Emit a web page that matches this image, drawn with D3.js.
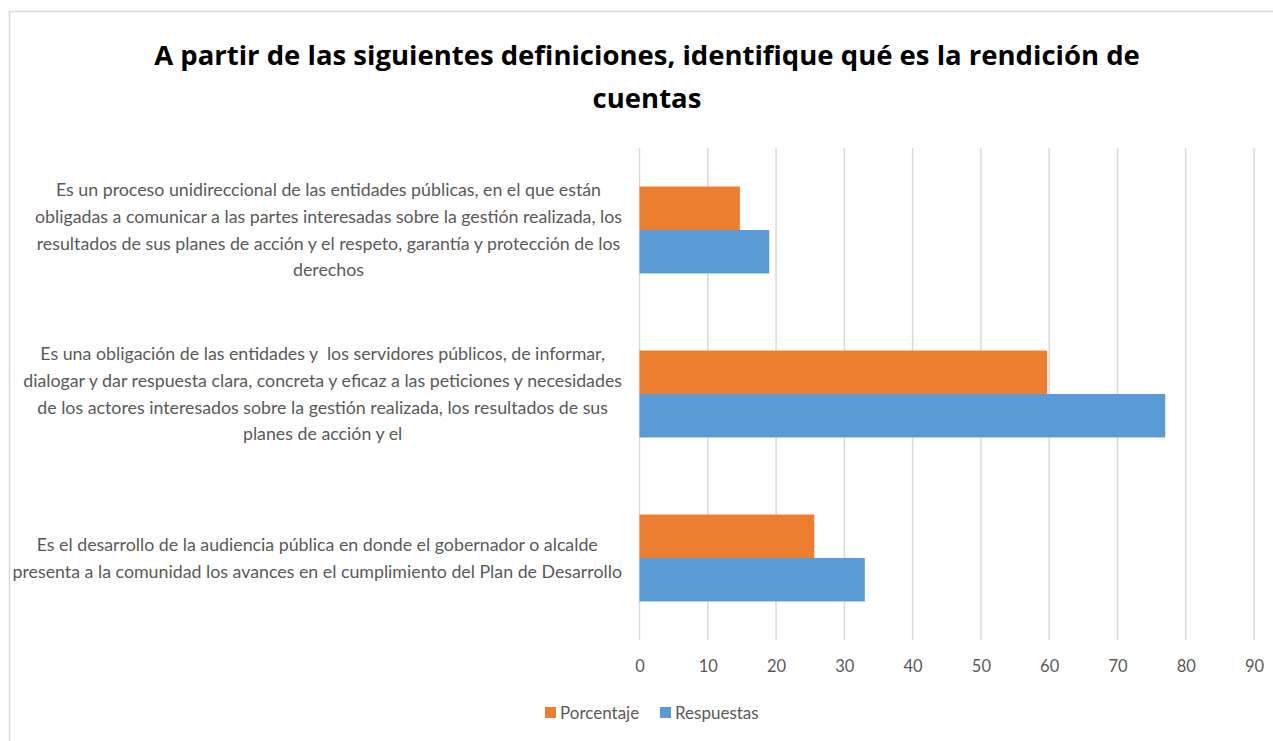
<!DOCTYPE html>
<html>
<head>
<meta charset="utf-8">
<script src="https://cdn.jsdelivr.net/npm/d3@7"></script>
<style>
  body { margin: 0; background: #fff; }
  svg { display: block; font-family: "Lato", "Liberation Sans", sans-serif; }
</style>
</head>
<body>
<div id="chart"></div>
<script>
// categorias (de arriba hacia abajo), cada una partida en lineas como en el original
const categories = [
    ["Es un proceso unidireccional de las entidades públicas, en el que están",
     "obligadas a comunicar a las partes interesadas sobre la gestión realizada, los",
     "resultados de sus planes de acción y el respeto, garantía y protección de los",
     "derechos"],
    ["Es una obligación de las entidades y  los servidores públicos, de informar,",
     "dialogar y dar respuesta clara, concreta y eficaz a las peticiones y necesidades",
     "de los actores interesados sobre la gestión realizada, los resultados de sus",
     "planes de acción y el"],
    ["Es el desarrollo de la audiencia pública en donde el gobernador o alcalde",
     "presenta a la comunidad los avances en el cumplimiento del Plan de Desarrollo"]
];
const seriesNames = ["Porcentaje", "Respuestas"];
const porcentaje = [14.7, 59.7, 25.6];
const respuestas = [19, 77, 33];
const xTicks = [0, 10, 20, 30, 40, 50, 60, 70, 80, 90];
const colors = { "Porcentaje": "#ed7d31", "Respuestas": "#5b9bd5" };

const W = 1273, H = 741;
const plot = { left: 639.5, right: 1254, top: 148, bottom: 640 };

const svg = d3.select("#chart").append("svg")
    .attr("width", W)
    .attr("height", H);

// borde del grafico
svg.append("rect")
    .attr("x", 9.5).attr("y", 11.5)
    .attr("width", 1290).attr("height", 760)
    .attr("fill", "none")
    .attr("stroke", "#d9d9d9")
    .attr("stroke-width", 1.5);

// titulo
const title = svg.append("text")
    .attr("text-anchor", "middle")
    .style("font-family", "'Open Sans', 'Liberation Sans', sans-serif")
    .style("font-size", "27.5px")
    .style("font-weight", "bold")
    .attr("fill", "#000");
title.append("tspan").attr("x", 647).attr("y", 65)
    .text("A partir de las siguientes definiciones, identifique qué es la rendición de");
title.append("tspan").attr("x", 647).attr("y", 108)
    .text("cuentas");

const x = d3.scaleLinear()
    .domain([0, 90])
    .range([plot.left, plot.right]);

const y = d3.scaleBand()
    .domain(d3.range(categories.length))
    .range([plot.top, plot.bottom])
    .paddingInner(0.47)
    .paddingOuter(0.235);

const ySub = d3.scaleBand()
    .domain(seriesNames)
    .range([0, y.bandwidth()]);

// lineas de cuadricula
svg.append("g")
    .selectAll("line")
    .data(xTicks)
    .enter()
    .append("line")
    .attr("x1", d => x(d)).attr("x2", d => x(d))
    .attr("y1", plot.top).attr("y2", plot.bottom)
    .attr("stroke", "#d9d9d9")
    .attr("stroke-width", 1.5);

// eje x (solo etiquetas)
const xAxis = svg.append("g")
    .attr("transform", "translate(0," + plot.bottom + ")")
    .call(d3.axisBottom(x).tickValues(xTicks).tickSize(0).tickPadding(20));
xAxis.select(".domain").remove();
xAxis.selectAll("text")
    .style("font-size", "16.5px")
    .style("font-family", "'Lato', 'Liberation Sans', sans-serif")
    .attr("fill", "#595959");

// barras
const rows = categories.map((c, i) => ({ i, Porcentaje: porcentaje[i], Respuestas: respuestas[i] }));
const groups = svg.append("g")
    .selectAll("g")
    .data(rows)
    .enter()
    .append("g")
    .attr("transform", d => "translate(0," + y(d.i) + ")");

groups.selectAll("rect")
    .data(d => seriesNames.map(s => ({ s, v: d[s] })))
    .enter()
    .append("rect")
    .attr("x", x(0))
    .attr("y", d => ySub(d.s))
    .attr("width", d => x(d.v) - x(0))
    .attr("height", ySub.bandwidth())
    .attr("fill", d => colors[d.s]);

// etiquetas de categoria: bloque alineado a la derecha, lineas centradas
const lineH = 26.7;
const labelRight = 622;
const widestTarget = 610; // ancho de la linea mas larga en el original
const labelBlocks = categories.map((lines, i) => {
    const cy = y(i) + y.bandwidth() / 2;
    return svg.append("g").selectAll("text")
        .data(lines)
        .enter()
        .append("text")
        .attr("y", (d, k) => cy + (k - (lines.length - 1) / 2) * lineH)
        .attr("dy", "0.35em")
        .attr("text-anchor", "middle")
        .style("white-space", "pre")
        .style("font-size", "16px")
        .attr("fill", "#595959")
        .text(d => d);
});
let widest = 0;
labelBlocks.forEach(t => t.each(function () { widest = Math.max(widest, this.getComputedTextLength()); }));
const labelSize = 16 * widestTarget / widest;
labelBlocks.forEach(t => {
    t.style("font-size", labelSize + "px");
    let maxW = 0;
    t.each(function () { maxW = Math.max(maxW, this.getComputedTextLength()); });
    t.attr("x", labelRight - maxW / 2);
});

// leyenda
const legend = svg.append("g");
const legendX = [545, 660];
seriesNames.forEach((s, i) => {
    legend.append("rect")
        .attr("x", legendX[i]).attr("y", 707)
        .attr("width", 11).attr("height", 11)
        .attr("fill", colors[s]);
    legend.append("text")
        .attr("x", legendX[i] + 15).attr("y", 713)
        .attr("dy", "0.35em")
        .style("font-size", "17px")
        .attr("fill", "#595959")
        .text(s);
});
</script>
</body>
</html>
